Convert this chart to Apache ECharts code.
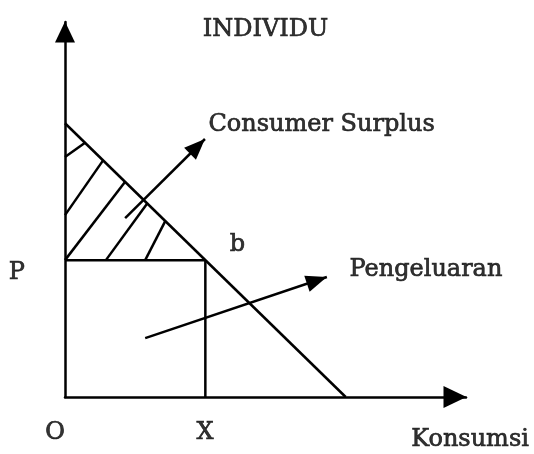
<!DOCTYPE html>
<html>
  <head>
    <meta charset="utf-8" />
    <title>Individu</title>
    <script src="https://cdn.jsdelivr.net/npm/echarts@6/dist/echarts.min.js"></script>
    <style>
      body { margin: 0; background: #fff; }
    </style>
  </head>
  <body>
    <div id="main" style="width: 534px;height:454px;"></div>
    <script type="text/javascript">
// demand line: intercepts on both axes
var demandLine = [[0, 7.3], [7.0, 0]];
// price P and quantity X at point b
var priceP = 3.65;
var qtyX = 3.5;
// hatch strokes inside the consumer surplus triangle
var hatchLines = [
  [[0, 6.4], [0.5, 6.78]],
  [[0, 4.85], [0.95, 6.31]],
  [[0, 3.65], [1.5, 5.74]],
  [[1.02, 3.65], [2.05, 5.16]],
  [[2.0, 3.65], [2.5, 4.69]]
];
// pointer arrows [tail, tip]
var arrowLines = [
  [[1.5, 4.77], [3.49, 6.88]],
  [[2.0, 1.57], [6.53, 3.2]]
];
// text notes [x, y, text]
var notes = [
  [5.0, 9.8, 'INDIVIDU'],
  [6.4, 7.25, 'Consumer Surplus'],
  [4.3, 4.05, 'b'],
  [9.0, 3.39, 'Pengeluaran'],
  [-1.2, 3.3, 'P'],
  [-0.25, -0.95, 'O'],
  [3.49, -0.95, 'X'],
  [10.1, -1.15, 'Konsumsi']
];

var myChart = echarts.init(document.getElementById('main'));
var ink = '#000';
var serif = 'DejaVu Serif';
// arrow head whose tip sits at the centre of its box
var headPath = 'path://M20,20L28,40L12,40Z M0,0 M40,40';

var series = [];
// demand
series.push({
  type: 'line', data: demandLine, symbol: 'none', silent: true,
  lineStyle: { color: ink, width: 2.5 }
});
// spending rectangle edges
series.push({
  type: 'line', data: [[0, priceP], [qtyX, priceP], [qtyX, 0]], symbol: 'none', silent: true,
  lineStyle: { color: ink, width: 2.5 }
});
hatchLines.forEach(function (seg) {
  series.push({
    type: 'line', data: seg, symbol: 'none', silent: true,
    lineStyle: { color: ink, width: 2.5 }
  });
});
series.push({
  type: 'lines', coordinateSystem: 'cartesian2d', silent: true,
  symbol: ['none', headPath], symbolSize: 42,
  lineStyle: { color: ink, width: 2.5, opacity: 1 },
  data: arrowLines.map(function (a) { return { coords: a }; })
});
series.push({
  type: 'scatter', symbolSize: 0, clip: false, silent: true,
  data: notes,
  label: {
    show: true, position: 'inside', color: ink,
    fontFamily: serif, fontSize: 24,
    textBorderColor: ink, textBorderWidth: 0.7,
    formatter: function (p) { return p.value[2]; }
  }
});

myChart.setOption({
  animation: false,
  grid: { left: 65, top: 22, right: 68, bottom: 57 },
  xAxis: {
    type: 'value', min: 0, max: 10,
    splitLine: { show: false }, axisTick: { show: false }, axisLabel: { show: false },
    axisLine: { show: true, onZero: false, symbol: ['none', 'triangle'], symbolSize: [22, 23],
      symbolOffset: [0, -11], lineStyle: { color: ink, width: 2.5 } }
  },
  yAxis: {
    type: 'value', min: 0, max: 10,
    splitLine: { show: false }, axisTick: { show: false }, axisLabel: { show: false },
    axisLine: { show: true, onZero: false, symbol: ['none', 'triangle'], symbolSize: [20, 21],
      symbolOffset: [0, -10], lineStyle: { color: ink, width: 2.5 } }
  },
  series: series
});
    </script>
  </body>
</html>
